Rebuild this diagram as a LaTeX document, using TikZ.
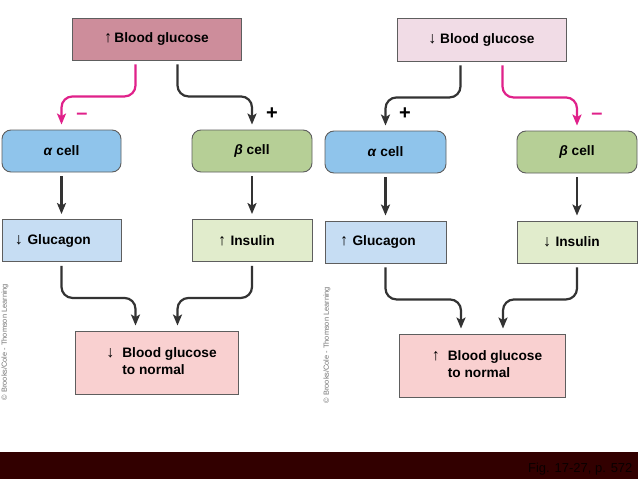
\documentclass[tikz,border=0pt]{standalone}
\usepackage{fontspec}
\setmainfont{Liberation Sans}
\usetikzlibrary{arrows.meta, positioning}
\definecolor{highpink}{HTML}{CD8D9B}
\definecolor{lowpink}{HTML}{F1DCE6}
\definecolor{alphablue}{HTML}{8FC4EB}
\definecolor{betagreen}{HTML}{B6CF96}
\definecolor{glucblue}{HTML}{C6DDF3}
\definecolor{insgreen}{HTML}{E1ECCC}
\definecolor{normpink}{HTML}{F9D0D0}
\definecolor{boxline}{HTML}{5E5E5E}
\definecolor{arrowdark}{HTML}{333333}
\definecolor{inhibpink}{HTML}{E0218A}
\definecolor{barred}{HTML}{320000}
\newcommand{\ua}{{\mdseries\fontsize{16}{16}\selectfont ↑}}
\newcommand{\da}{{\mdseries\fontsize{16}{16}\selectfont ↓}}

\begin{document}
\begin{tikzpicture}[
    x=1pt, y=-1pt,
    every node/.style={font=\fontsize{13.7}{16.5}\selectfont\bfseries},
    box/.style={
        rectangle,
        draw=boxline,
        line width=0.9pt,
        minimum height=42pt,
        inner sep=0pt,
        align=center
    },
    cellbox/.style={box, rounded corners=9pt, minimum width=120pt},
    hormbox/.style={box, text width=120pt, align=left},
    normbox/.style={box, fill=normpink, minimum height=63pt},
    darkarrow/.style={
        -{Stealth[length=11pt,width=9pt,inset=2.5pt]},
        line width=2.2pt,
        draw=arrowdark,
        rounded corners=11pt
    },
    pinkarrow/.style={darkarrow, draw=inhibpink},
    sign/.style={font=\fontsize{20}{20}\selectfont\bfseries},
    copyright/.style={font=\fontsize{7.4}{8}\selectfont, text=black!55, rotate=90}
]
\fill[white] (0,0) rectangle (638,479);
\useasboundingbox (0,0) rectangle (638,479);

% Footer bar
\fill[barred] (0,452) rectangle (638,479);
\node[font=\fontsize{13}{15}\selectfont, text=black!80!barred, anchor=east] (figref) at (636,469) {Fig. 17-27, p. 572};

% High blood glucose (left)
\node[box, fill=highpink, minimum width=169pt] (hi) at (156.5,39) {\ua\,Blood glucose};
\node[cellbox, fill=alphablue, minimum width=119pt] (alphaL) at (61.5,151) {\textit{α} cell};
\node[cellbox, fill=betagreen] (betaL) at (252,151) {\textit{β} cell};
\node[hormbox, fill=glucblue, text width=119pt] (glucL) at (61.5,240.5) {\hspace*{13pt}\da\ Glucagon};
\node[hormbox, fill=insgreen] (insL) at (252,240.5) {\hspace*{26pt}\ua\ Insulin};
\node[normbox, minimum width=163pt] (normL) at (156.5,362.5)
    {\hspace*{10pt}\begin{tabular}{@{}l@{\hspace{8pt}}l@{}}\da & Blood glucose\\ & to normal\end{tabular}};

\draw[pinkarrow] ([xshift=-21pt,yshift=-4pt]hi.south) -- ++(0,32) -| ([yshift=5pt]alphaL.north);
\draw[darkarrow] ([xshift=21pt,yshift=-4pt]hi.south) -- ++(0,32) -| ([yshift=5pt]betaL.north);
\node[sign, text=inhibpink] (minusL) at (82,116) {–};
\node[sign] (plusL) at (272,114) {+};

\draw[darkarrow] ([yshift=-4pt]alphaL.south) -- ([yshift=5pt]glucL.north);
\draw[darkarrow] ([yshift=-4pt]betaL.south) -- ([yshift=5pt]insL.north);
\draw[darkarrow] ([yshift=-4pt]glucL.south) -- ++(0,32) -| ([xshift=-21pt,yshift=5pt]normL.north);
\draw[darkarrow] ([yshift=-4pt]insL.south) -- ++(0,32) -| ([xshift=21pt,yshift=5pt]normL.north);

% Low blood glucose (right)
\node[box, fill=lowpink, minimum width=169pt, minimum height=43pt] (lo) at (481.5,39.5) {\da\ Blood glucose};
\node[cellbox, fill=alphablue, minimum width=121pt] (alphaR) at (385.5,152) {\textit{α} cell};
\node[cellbox, fill=betagreen] (betaR) at (577,152) {\textit{β} cell};
\node[hormbox, fill=glucblue, text width=121pt] (glucR) at (385.5,242) {\hspace*{15pt}\ua\ Glucagon};
\node[hormbox, fill=insgreen] (insR) at (577,242) {\hspace*{26pt}\da\ Insulin};
\node[normbox, minimum width=166pt] (normR) at (482,365.5)
    {\hspace*{10pt}\begin{tabular}{@{}l@{\hspace{8pt}}l@{}}\ua & Blood glucose\\ & to normal\end{tabular}};

\draw[darkarrow] ([xshift=-21pt,yshift=-4pt]lo.south) -- ++(0,32) -| ([yshift=5pt]alphaR.north);
\draw[pinkarrow] ([xshift=21pt,yshift=-4pt]lo.south) -- ++(0,32) -| ([yshift=5pt]betaR.north);
\node[sign] (plusR) at (405,114) {+};
\node[sign, text=inhibpink] (minusR) at (597,116) {–};

\draw[darkarrow] ([yshift=-4pt]alphaR.south) -- ([yshift=5pt]glucR.north);
\draw[darkarrow] ([yshift=-4pt]betaR.south) -- ([yshift=5pt]insR.north);
\draw[darkarrow] ([yshift=-4pt]glucR.south) -- ++(0,32) -| ([xshift=-21pt,yshift=5pt]normR.north);
\draw[darkarrow] ([yshift=-4pt]insR.south) -- ++(0,32) -| ([xshift=21pt,yshift=5pt]normR.north);

% Copyright lines
\node[copyright] (copyL) at (5,342) {© Brooks/Cole - Thomson Learning};
\node[copyright] (copyR) at (327,345) {© Brooks/Cole - Thomson Learning};

\end{tikzpicture}
\end{document}
